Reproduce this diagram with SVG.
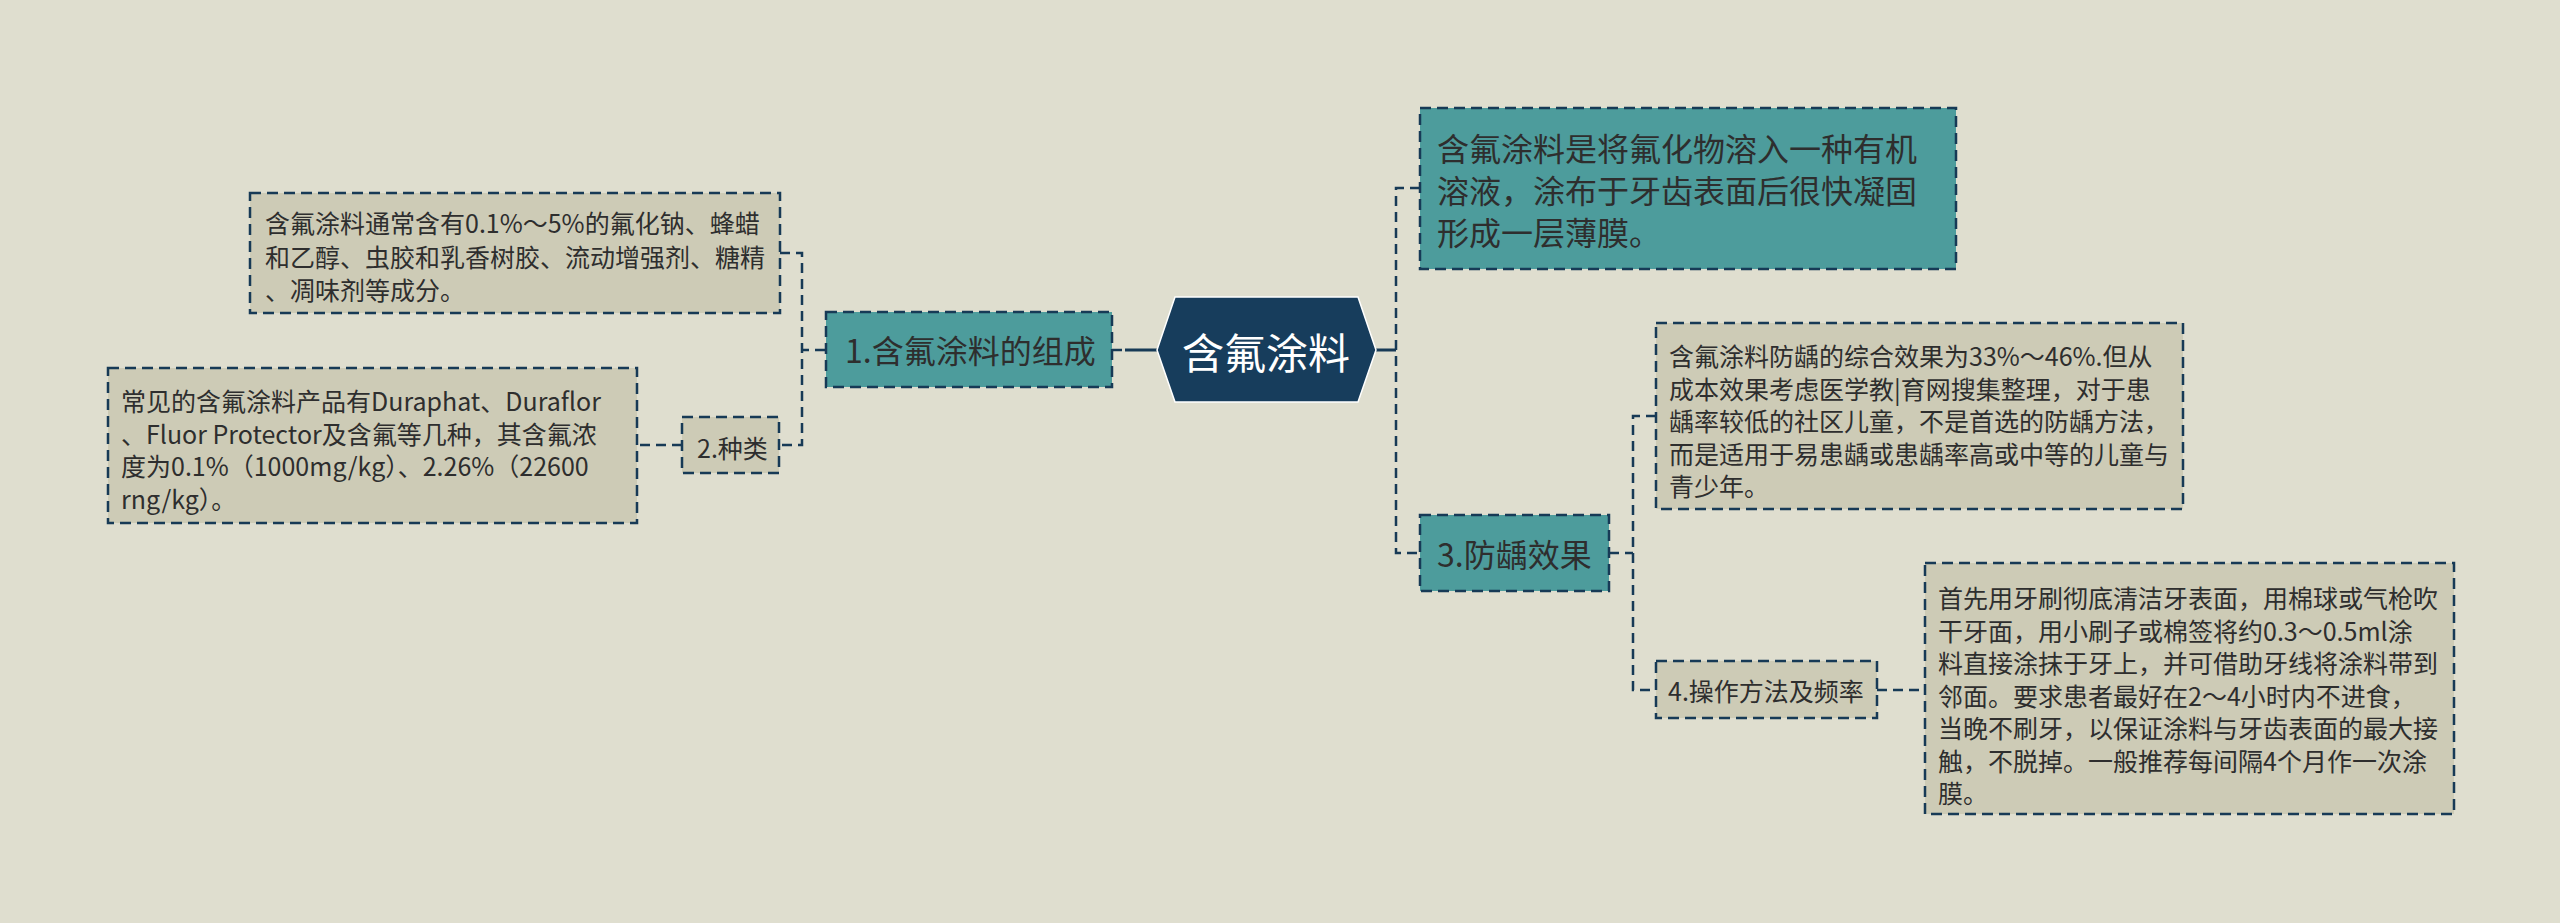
<svg xmlns="http://www.w3.org/2000/svg" width="2560" height="923" viewBox="0 0 2560 923">
<style>
text{font-family:"Noto Sans CJK SC","Noto Sans",sans-serif;dominant-baseline:central;fill:#2e2e2e}
.t25{font-size:25px}
.t32{font-size:32px}
.box{fill:#cdcbb6;stroke:#173a56;stroke-width:2.5;stroke-dasharray:11 6}
.teal{fill:#4d9c9c;stroke:#173a56;stroke-width:2.5;stroke-dasharray:11 6}
.con{fill:none;stroke:#173a56;stroke-width:2.5;stroke-dasharray:10 6}
.solid{fill:none;stroke:#173a56;stroke-width:3}
</style>
<rect x="0" y="0" width="2560" height="923" fill="#dfdecf"/>
<g id="connectors">
<path class="solid" d="M1125,350 H1158"/>
<path class="con" d="M1112,350 H1125"/>
<path class="solid" d="M1375,350 H1396"/>
<path class="con" d="M1420,188 H1396 V553 H1420"/>
<path class="con" d="M825,350 H802"/>
<path class="con" d="M780,253 H802 V445 H779"/>
<path class="con" d="M682,445 H637"/>
<path class="con" d="M1609,553 H1633"/>
<path class="con" d="M1656,416 H1633 V690 H1656"/>
<path class="con" d="M1877,690 H1925"/>
</g>
<g id="root">
<polygon points="1157,350 1175,297 1358,297 1376,350 1358,402 1175,402" fill="#173d5c" stroke="#ffffff" stroke-width="1.5"/>
<text x="1266" y="350" text-anchor="middle" style="font-size:42px;fill:#ffffff">含氟涂料</text>
</g>
<g id="n1">
<rect class="teal" x="826" y="312" width="286" height="75"/>
<text class="t32" x="845" y="349">1.含氟涂料的组成</text>
</g>
<g id="nA">
<rect class="box" x="250" y="193" width="530" height="120"/>
<text class="t25" x="265" y="222">含氟涂料通常含有0.1%～5%的氟化钠、蜂蜡</text>
<text class="t25" x="265" y="255.5">和乙醇、虫胶和乳香树胶、流动增强剂、糖精</text>
<text class="t25" x="265" y="289">、凋味剂等成分。</text>
</g>
<g id="n2">
<rect class="box" x="682" y="417" width="97" height="56"/>
<text class="t25" x="697" y="447">2.种类</text>
</g>
<g id="nB">
<rect class="box" x="108" y="368" width="529" height="155"/>
<text class="t25" x="121" y="400">常见的含氟涂料产品有Duraphat、Duraflor</text>
<text class="t25" x="121" y="432.5">、Fluor Protector及含氟等几种，其含氟浓</text>
<text class="t25" x="121" y="465">度为0.1%（1000mg/kg）、2.26%（22600</text>
<text class="t25" x="121" y="497.5">rng/kg）。</text>
</g>
<g id="nC">
<rect class="teal" x="1420" y="108" width="536" height="161"/>
<text class="t32" x="1437" y="147">含氟涂料是将氟化物溶入一种有机</text>
<text class="t32" x="1437" y="189">溶液，涂布于牙齿表面后很快凝固</text>
<text class="t32" x="1437" y="231">形成一层薄膜。</text>
</g>
<g id="n3">
<rect class="teal" x="1420" y="515" width="189" height="76"/>
<text class="t32" x="1437" y="553">3.防龋效果</text>
</g>
<g id="nD">
<rect class="box" x="1656" y="323" width="527" height="186"/>
<text class="t25" x="1669" y="355">含氟涂料防龋的综合效果为33%～46%.但从</text>
<text class="t25" x="1669" y="387.5">成本效果考虑医学教|育网搜集整理，对于患</text>
<text class="t25" x="1669" y="420">龋率较低的社区儿童，不是首选的防龋方法，</text>
<text class="t25" x="1669" y="452.5">而是适用于易患龋或患龋率高或中等的儿童与</text>
<text class="t25" x="1669" y="485">青少年。</text>
</g>
<g id="n4">
<rect class="box" x="1656" y="661" width="221" height="57"/>
<text class="t25" x="1668" y="690">4.操作方法及频率</text>
</g>
<g id="nE">
<rect class="box" x="1925" y="563" width="529" height="251"/>
<text class="t25" x="1938" y="597">首先用牙刷彻底清洁牙表面，用棉球或气枪吹</text>
<text class="t25" x="1938" y="629.5">干牙面，用小刷子或棉签将约0.3～0.5ml涂</text>
<text class="t25" x="1938" y="662">料直接涂抹于牙上，并可借助牙线将涂料带到</text>
<text class="t25" x="1938" y="694.5">邻面。要求患者最好在2～4小时内不进食，</text>
<text class="t25" x="1938" y="727">当晚不刷牙，以保证涂料与牙齿表面的最大接</text>
<text class="t25" x="1938" y="759.5">触，不脱掉。一般推荐每间隔4个月作一次涂</text>
<text class="t25" x="1938" y="792">膜。</text>
</g>
</svg>
